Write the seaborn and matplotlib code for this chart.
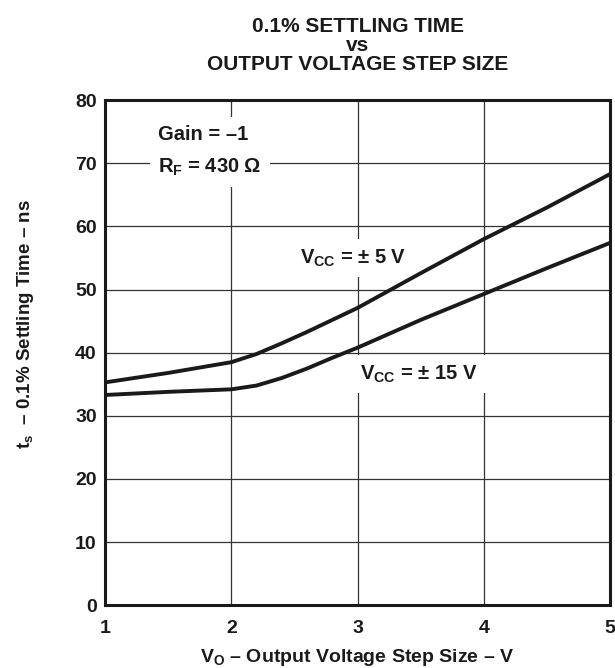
import matplotlib
matplotlib.use("Agg")
import matplotlib.pyplot as plt
import seaborn as sns
import pandas as pd

# values
step_v = [1.0, 1.5, 2.0, 2.2, 2.4, 2.6, 2.8, 3.0, 3.5, 4.0, 4.5, 5.0]
ts_5v = [35.3, 36.8, 38.5, 39.8, 41.5, 43.3, 45.2, 47.1, 52.6, 58.0, 63.0, 68.3]
ts_15v = [33.3, 33.8, 34.2, 34.8, 36.0, 37.5, 39.2, 40.8, 45.2, 49.3, 53.4, 57.4]
x_ticks = [1, 2, 3, 4, 5]
y_ticks = [0, 10, 20, 30, 40, 50, 60, 70, 80]

df = pd.concat([
    pd.DataFrame({"vo": step_v, "ts": ts_5v, "vcc": "5"}),
    pd.DataFrame({"vo": step_v, "ts": ts_15v, "vcc": "15"}),
])

sns.set_style("white")
plt.rcParams["font.family"] = ["Liberation Sans", "DejaVu Sans"]
plt.rcParams["font.weight"] = "bold"
plt.rcParams["mathtext.fontset"] = "custom"
plt.rcParams["mathtext.rm"] = "Liberation Sans:bold"
plt.rcParams["mathtext.bf"] = "Liberation Sans:bold"
plt.rcParams["mathtext.it"] = "Liberation Sans:bold"

ink = "#1a1a1a"
fig = plt.figure(figsize=(6.15, 6.68), dpi=100)
ax = fig.add_axes([0.171, 0.094, 0.821, 0.756])
ax.set_axisbelow(True)

sns.lineplot(data=df, x="vo", y="ts", hue="vcc", palette=[ink, ink],
             linewidth=2.8, legend=False, ax=ax, zorder=5)

ax.set_xlim(1, 5)
ax.set_ylim(0, 80)
ax.set_xticks(x_ticks)
ax.set_yticks(y_ticks)
ax.tick_params(length=0, labelsize=14, colors=ink)
ax.tick_params(axis="x", pad=11)
ax.tick_params(axis="y", pad=6)
for lbl in ax.get_xticklabels() + ax.get_yticklabels():
    lbl.set_fontweight("bold")
ax.grid(True, color="#333333", linewidth=0.9)
for s in ax.spines.values():
    s.set_linewidth(2.2)
    s.set_color(ink)
    s.set_zorder(6)

ax.set_xlabel(r"V$_\mathbf{O}$ – Output Voltage Step Size – V", fontsize=14,
              fontweight="bold", color=ink, labelpad=7)
ax.set_ylabel(r"t$_\mathbf{s}$  – 0.1% Settling Time – ns", fontsize=13.5,
              fontweight="bold", color=ink)
ax.yaxis.set_label_coords(-0.137, 0.556)
ax.set_title("0.1% SETTLING TIME\nvs\nOUTPUT VOLTAGE STEP SIZE", fontsize=15,
             fontweight="bold", color=ink, pad=22, linespacing=1.0)

box = dict(facecolor="white", edgecolor="none", pad=6)
ax.text(1.42, 74.5, "Gain = –1", fontsize=14.5, fontweight="bold", va="center",
        ha="left", bbox=box, zorder=4, color=ink)
ax.text(1.42, 69.3, r"R$_\mathbf{F}$ = 430 Ω", fontsize=14.5, fontweight="bold",
        va="center", ha="left", bbox=box, zorder=4, color=ink)
ax.text(2.54, 55.0, r"V$_\mathbf{CC}$ = ± 5 V", fontsize=14.5, fontweight="bold",
        va="center", ha="left", bbox=box, zorder=4, color=ink)
ax.text(3.02, 36.6, r"V$_\mathbf{CC}$ = ± 15 V", fontsize=14.5, fontweight="bold",
        va="center", ha="left", bbox=box, zorder=4, color=ink)

fig.savefig("out.png", dpi=100)
